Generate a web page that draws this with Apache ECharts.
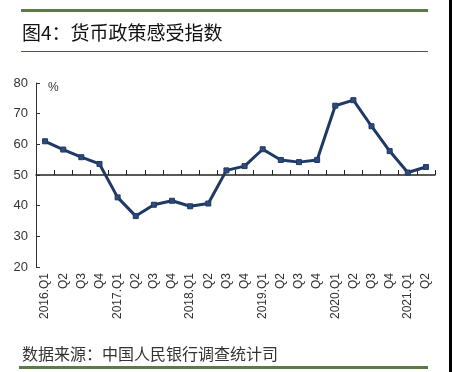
<!DOCTYPE html>
<html>
<head>
<meta charset="utf-8">
<script src="https://cdn.jsdelivr.net/npm/echarts@6/dist/echarts.min.js"></script>
<style>
html,body{margin:0;padding:0;background:#fff;}
#c{width:452px;height:372px;}
</style>
</head>
<body>
<div id="c"></div>
<script>
const categories = ["2016.Q1","Q2","Q3","Q4","2017.Q1","Q2","Q3","Q4","2018.Q1","Q2","Q3","Q4","2019.Q1","Q2","Q3","Q4","2020.Q1","Q2","Q3","Q4","2021.Q1","Q2"];
const indexValues = [61.0,58.3,55.8,53.6,42.7,36.6,40.3,41.6,39.8,40.7,51.5,52.9,58.4,54.9,54.2,54.9,72.6,74.4,65.9,57.8,50.8,52.6];
const yTicks = {min:20, max:80, interval:10};
const titleText = "图4：货币政策感受指数";
const sourceText = "数据来源：中国人民银行调查统计司";
const unitText = "%";

const chart = echarts.init(document.getElementById('c'), null, {renderer:'canvas'});
const font = "'Liberation Sans', 'Noto Sans', sans-serif";
const cjk = "'Noto Sans CJK SC', sans-serif";
chart.setOption({
  animation:false,
  backgroundColor:'#fff',
  grid:[
    {left:36, right:17, top:83, height:184},
    {left:36, right:17, top:83, height:92}
  ],
  xAxis:[
    {type:'category', gridIndex:0, data:categories, boundaryGap:true,
     axisLine:{show:false}, axisTick:{show:false},
     axisLabel:{rotate:90, fontSize:12, color:'#333', margin:6, fontFamily:font, interval:0}},
    {type:'category', gridIndex:1, data:categories, boundaryGap:true, position:'bottom',
     axisLine:{show:true, lineStyle:{color:'#222', width:1.5}},
     axisTick:{show:true, inside:true, length:5, lineStyle:{color:'#222', width:1}, interval:0},
     axisLabel:{show:false}}
  ],
  yAxis:[
    {type:'value', gridIndex:0, min:yTicks.min, max:yTicks.max, interval:yTicks.interval,
     axisLine:{show:true, lineStyle:{color:'#333', width:1}},
     axisTick:{show:true, inside:true, length:4, lineStyle:{color:'#333'}},
     axisLabel:{fontSize:13, color:'#333', margin:8, fontFamily:font},
     splitLine:{show:false}},
    {type:'value', gridIndex:1, min:0, max:1, show:false}
  ],
  series:[{
    type:'line', xAxisIndex:0, yAxisIndex:0, data:indexValues,
    lineStyle:{color:'#1f3864', width:3},
    itemStyle:{color:'#2c4a7c', borderColor:'#1f3864', borderWidth:1},
    symbol:'rect', symbolSize:5, showSymbol:true, z:5
  }],
  graphic:[
    {type:'rect', shape:{x:21, y:9, width:407, height:3}, style:{fill:'#5b7a44'}},
    {type:'text', left:22, top:23, style:{text:titleText, font:'19px '+cjk, fill:'#111'}},
    {type:'rect', shape:{x:21, y:51, width:407, height:1}, style:{fill:'#4a5a44'}},
    {type:'text', left:48, top:82, style:{text:unitText, font:'12px '+font, fill:'#333'}},
    {type:'text', left:22, top:346, style:{text:sourceText, font:'16px '+cjk, fill:'#333'}},
    {type:'rect', shape:{x:19, y:366, width:409, height:3}, style:{fill:'#5b7a44'}},
    {type:'rect', shape:{x:449, y:0, width:3, height:372}, style:{fill:'#000'}}
  ]
});
</script>
</body>
</html>
